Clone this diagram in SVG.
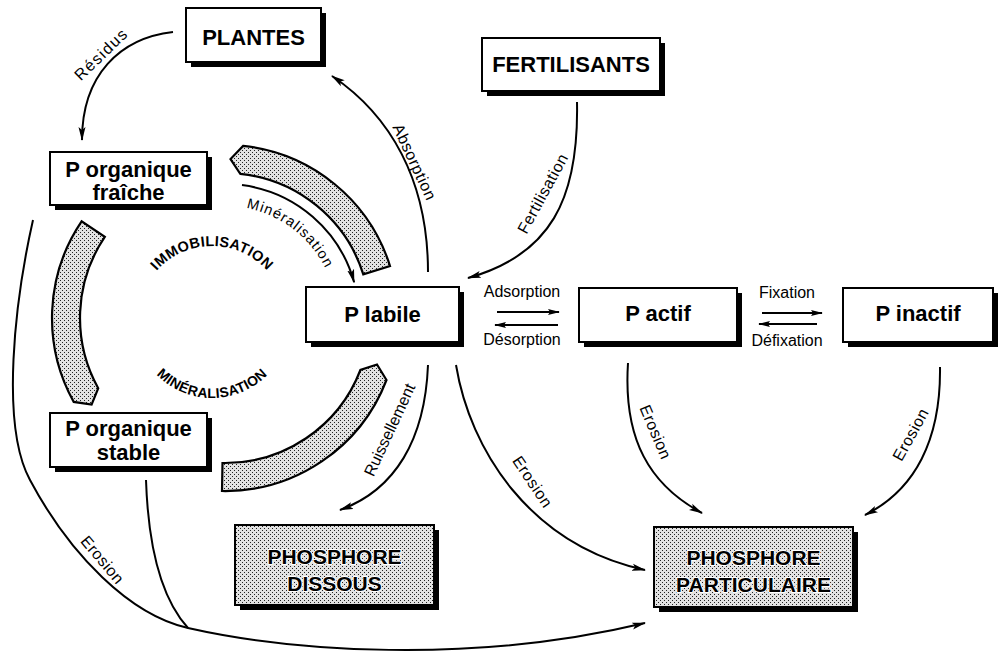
<svg xmlns="http://www.w3.org/2000/svg" width="1003" height="656" viewBox="0 0 1003 656">
<style>
.shadow{fill:#000}
.box{fill:#fff;stroke:#000;stroke-width:2}
.gbox{fill:url(#dots);stroke:#000;stroke-width:2}
.band{fill:url(#dots);stroke:#000;stroke-width:2.2;stroke-linejoin:miter}
.bt{font-family:"Liberation Sans",Arial,sans-serif;font-weight:bold;font-size:22px;text-anchor:middle;fill:#000}
.gt{font-family:"Liberation Sans",Arial,sans-serif;font-weight:bold;font-size:21px;text-anchor:middle;fill:#000;stroke:#fff;stroke-width:2;paint-order:stroke}
.lbl{font-family:"Liberation Sans",Arial,sans-serif;font-size:16px;fill:#000;text-anchor:middle}
.cyc{font-family:"Liberation Sans",Arial,sans-serif;font-weight:bold;font-size:14.5px;fill:#000;letter-spacing:0.3px}
.ln{fill:none;stroke:#000;stroke-width:2}
.arr{fill:none;stroke:#000;stroke-width:2;marker-end:url(#ah)}
.sarr{fill:none;stroke:#000;stroke-width:2;marker-end:url(#ah2)}
</style>
<defs>
<pattern id="dots" width="4" height="4" patternUnits="userSpaceOnUse">
<rect width="4" height="4" fill="#e2e2e2"/>
<rect x="0" y="0" width="1" height="1" fill="#222"/>
<rect x="2" y="2" width="1" height="1" fill="#222"/>
</pattern>
<marker id="ah" viewBox="0 0 14 8" refX="13" refY="4" markerWidth="14" markerHeight="8" markerUnits="userSpaceOnUse" orient="auto">
<path d="M0,0.5 L14,4 L0,7.5 L3,4 Z" fill="#000"/>
</marker>
<marker id="ah2" viewBox="0 0 12 7" refX="11" refY="3.5" markerWidth="12" markerHeight="7" markerUnits="userSpaceOnUse" orient="auto">
<path d="M0,0.5 L12,3.5 L0,6.5 L2,3.5 Z" fill="#000"/>
</marker>
<path id="immoPath" d="M138,320 A74,74 0 0 1 286,320"/>
<path id="minePath" d="M134,320 A78,78 0 0 0 290,320"/>
<path id="minArc" d="M205.6,207.7 A112,112 0 0 1 336.6,308.2"/>
</defs>

<rect width="1003" height="656" fill="#fff"/>

<g id="cycle">
<path class="band" d="M243.1,145.9 A173,173 0 0 1 390,266 L363.3,274.4 A145,145 0 0 0 240.2,173.8 L230.5,159.1 Z"/>
<path class="band" d="M81.6,221.3 A173,173 0 0 0 73.7,401.9 L91.6,404.6 L98.2,388.3 A145,145 0 0 1 104.8,236.9 Z"/>
<path class="band" d="M222,491 A173,173 0 0 0 386.5,380 L377,364.5 L360.4,370 A145,145 0 0 1 222.5,463 Z"/>
<text class="cyc" text-anchor="middle"><textPath href="#immoPath" startOffset="50%">IMMOBILISATION</textPath></text>
<text class="cyc" text-anchor="middle" style="font-size:14px"><textPath href="#minePath" startOffset="50%">MINÉRALISATION</textPath></text>
</g>

<g id="connectors">
<path class="arr" d="M173,32 C120,38 82,75 82,140"/>
<path class="arr" d="M428,272 C428,180 390,115 332,76"/>
<path class="arr" d="M577,102 C579,200 550,255 468,278"/>
<path class="arr" d="M242,185.1 A134,134 0 0 1 354.1,282.2"/>
<path class="sarr" d="M497,312 L559,312"/>
<path class="sarr" d="M558,325 L495,325"/>
<path class="sarr" d="M762,313 L822,313"/>
<path class="sarr" d="M817,324 L759,324"/>
<path class="arr" d="M428,365 C425,440 395,490 340,510"/>
<path class="arr" d="M456,365 C470,450 530,545 645,570"/>
<path class="arr" d="M628,363 C623,440 650,485 702,513"/>
<path class="arr" d="M940,367 C941,440 915,490 865,515"/>
<path class="arr" d="M33,220 C15,300 0,425 30,480 C70,555 130,615 188,628 C290,651 470,665 645,623"/>
<path class="ln" d="M146,480 C148,540 158,595 188,628"/>

<text class="lbl" transform="translate(101,55) rotate(-44)" dy="5" textLength="66" lengthAdjust="spacing">Résidus</text>
<text class="lbl" transform="translate(414,162) rotate(65)" dy="5" textLength="82" lengthAdjust="spacing">Absorption</text>
<text class="lbl" transform="translate(543,194) rotate(-61.5)" dy="5" textLength="88" lengthAdjust="spacing">Fertilisation</text>
<text class="lbl" style="font-size:14.5px;letter-spacing:1px;text-anchor:middle"><textPath href="#minArc" startOffset="50%">Minéralisation</textPath></text>
<text class="lbl" x="522" y="297">Adsorption</text>
<text class="lbl" x="522" y="345">Désorption</text>
<text class="lbl" x="787" y="298">Fixation</text>
<text class="lbl" x="787" y="346">Défixation</text>
<text class="lbl" transform="translate(390,430) rotate(-65)" dy="5" textLength="100" lengthAdjust="spacing">Ruissellement</text>
<text class="lbl" transform="translate(532,482) rotate(56)" dy="5" textLength="58" lengthAdjust="spacing">Erosion</text>
<text class="lbl" transform="translate(655,432) rotate(67)" dy="5" textLength="57" lengthAdjust="spacing">Erosion</text>
<text class="lbl" transform="translate(911,435) rotate(-61)" dy="5" textLength="57" lengthAdjust="spacing">Erosion</text>
<text class="lbl" transform="translate(102,560) rotate(50)" dy="5" textLength="57" lengthAdjust="spacing">Erosion</text>
</g>

<g id="plantes">
<rect class="shadow" x="191" y="13" width="135" height="54"/>
<rect class="box" x="186" y="8" width="135" height="54"/>
<text class="bt" x="253.5" y="45">PLANTES</text>
</g>
<g id="fertilisants">
<rect class="shadow" x="487" y="43" width="178" height="53"/>
<rect class="box" x="482" y="38" width="178" height="53"/>
<text class="bt" x="571" y="72">FERTILISANTS</text>
</g>
<g id="p-organique-fraiche">
<rect class="shadow" x="55" y="157" width="157" height="53"/>
<rect class="box" x="50" y="152" width="157" height="53"/>
<text class="bt" x="128.5" y="177">P organique</text>
<text class="bt" x="128.5" y="200">fraîche</text>
</g>
<g id="p-organique-stable">
<rect class="shadow" x="55" y="418" width="157" height="54"/>
<rect class="box" x="50" y="413" width="157" height="54"/>
<text class="bt" x="128.5" y="436">P organique</text>
<text class="bt" x="128.5" y="460">stable</text>
</g>
<g id="p-labile">
<rect class="shadow" x="311" y="292" width="153" height="55"/>
<rect class="box" x="306" y="287" width="153" height="55"/>
<text class="bt" x="382.5" y="322">P labile</text>
</g>
<g id="p-actif">
<rect class="shadow" x="584" y="293" width="158" height="54"/>
<rect class="box" x="579" y="288" width="158" height="54"/>
<text class="bt" x="658" y="321">P actif</text>
</g>
<g id="p-inactif">
<rect class="shadow" x="848" y="293" width="150" height="54"/>
<rect class="box" x="843" y="288" width="150" height="54"/>
<text class="bt" x="918" y="321">P inactif</text>
</g>
<g id="phosphore-dissous">
<rect class="shadow" x="240" y="530" width="199" height="80"/>
<rect class="gbox" x="235" y="525" width="199" height="80"/>
<text class="gt" x="334.5" y="564">PHOSPHORE</text>
<text class="gt" x="334.5" y="591">DISSOUS</text>
</g>
<g id="phosphore-particulaire">
<rect class="shadow" x="659" y="532" width="199" height="80"/>
<rect class="gbox" x="654" y="527" width="199" height="80"/>
<text class="gt" x="753.5" y="565">PHOSPHORE</text>
<text class="gt" x="753.5" y="592">PARTICULAIRE</text>
</g>
</svg>
